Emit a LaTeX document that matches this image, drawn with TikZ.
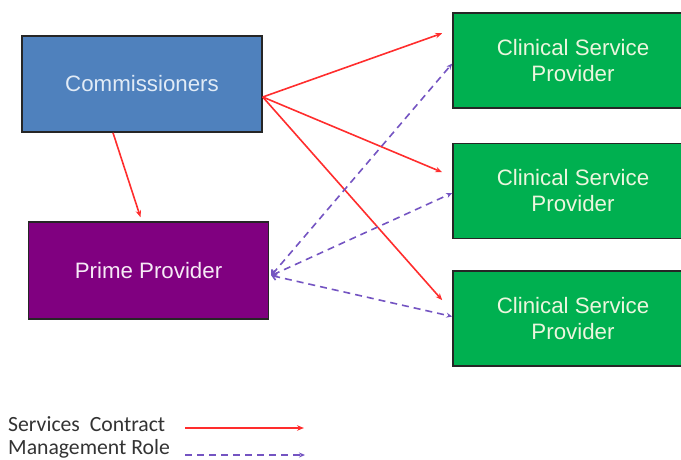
\documentclass[tikz,border=0pt]{standalone}
\usepackage{fontspec}
\setmainfont{Liberation Sans}
\newfontfamily\legendfont{Carlito}
\usepackage{tikz}
\usetikzlibrary{arrows.meta}
\definecolor{commblue}{RGB}{79,129,189}
\definecolor{commtext}{RGB}{225,235,246}
\definecolor{primepurple}{RGB}{128,0,128}
\definecolor{primetext}{RGB}{246,234,246}
\definecolor{cspgreen}{RGB}{0,176,80}
\definecolor{csptext}{RGB}{236,246,222}
\definecolor{contractred}{RGB}{255,45,45}
\definecolor{rolepurple}{RGB}{116,84,194}

\begin{document}
\begin{tikzpicture}[x=1pt, y=-1pt,
    box/.style={draw=black!85, line width=1.5pt, minimum width=240pt,
      minimum height=96pt, inner sep=0pt, align=center,
      font=\fontsize{22.3}{26}\selectfont},
    contract/.style={-{Stealth[length=7pt,width=5.5pt]}, contractred,
      line width=1.6pt},
    role/.style={-{Stealth[length=6pt,width=5pt]}, rolepurple,
      line width=1.6pt, dash pattern=on 7pt off 5pt},
    legend/.style={anchor=west, inner sep=0pt, text=black!80,
      font=\legendfont\fontsize{21.7}{26}\selectfont}
  ]
    \useasboundingbox (0,0) rectangle (681,459);
    \clip (0,0) rectangle (681,459);

    \node[box, fill=commblue, text=commtext] (comm) at (142,84) {Commissioners};
    \node[box, fill=primepurple, text=primetext, minimum height=97pt] (prime) at (148.5,270.5) {Prime Provider};

    \node[box, fill=cspgreen, text=csptext, minimum height=95pt] (csp1) at (573,60.5) {Clinical Service\\Provider};
    \node[box, fill=cspgreen, text=csptext, minimum height=95pt] (csp2) at (573,191) {Clinical Service\\Provider};
    \node[box, fill=cspgreen, text=csptext, minimum height=95pt] (csp3) at (573,318.5) {Clinical Service\\Provider};

    \draw[contract] ([xshift=-29pt]comm.south) -- ([shift={(-8pt,4pt)}]prime.north);
    \draw[contract] ([yshift=-13pt]comm.east) -- ([shift={(-10pt,-21pt)}]csp1.north west);
    \draw[contract] ([yshift=-13pt]comm.east) -- ([shift={(-10pt,-29.5pt)}]csp2.north west);
    \draw[contract] ([yshift=-13pt]comm.east) -- ([shift={(-10pt,-30pt)}]csp3.north west);

    \draw[role, {Straight Barb[length=4pt,width=7pt]}-{Stealth[length=6pt,width=5pt]}] ([shift={(2pt,-5pt)}]prime.east) -- ([yshift=-3pt]csp1.west);
    \draw[role, {Straight Barb[length=4pt,width=7pt]}-{Stealth[length=6pt,width=5pt]}] ([shift={(2pt,-5pt)}]prime.east) -- ([yshift=-2pt]csp2.west);
    \draw[role, {Straight Barb[length=4pt,width=7pt]}-{Stealth[length=6pt,width=5pt]}] ([shift={(2pt,-5pt)}]prime.east) -- ([yshift=2pt]csp3.west);

    \node[legend] (legcontract) at (8,424) {Services\ \ Contract};
    \node[legend] (legrole) at (8,449) {Management Role};
    \coordinate (contractfrom) at (185,428);
    \coordinate (contractto) at (304,428);
    \coordinate (rolefrom) at (185,455);
    \coordinate (roleto) at (305,455);
    \draw[contract] (contractfrom) -- (contractto);
    \draw[role] (rolefrom) -- (roleto);
  \end{tikzpicture}
\end{document}
